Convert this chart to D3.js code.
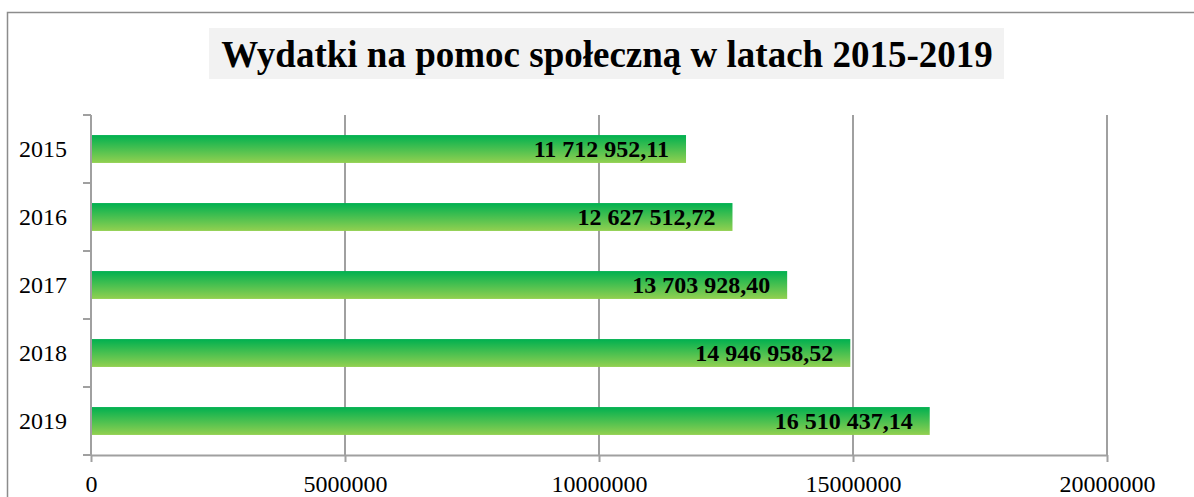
<!DOCTYPE html>
<html>
<head>
<meta charset="utf-8">
<script src="https://cdn.jsdelivr.net/npm/d3@7"></script>
<style>
  body { margin: 0; background: #fff; }
  svg text { font-family: 'Liberation Serif', 'Times New Roman', serif; }
</style>
</head>
<body>
<div class="container"></div>
<script>
const WIDTH = 1194,
      HEIGHT = 497;

// data
var years = ['2015', '2016', '2017', '2018', '2019'];
var values = [11712952.11, 12627512.72, 13703928.40, 14946958.52, 16510437.14];
var xTicks = [0, 5000000, 10000000, 15000000, 20000000];
var title = 'Wydatki na pomoc społeczną w latach 2015-2019';

var margin = {left: 91, right: 87, top: 115, bottom: 42};

var svg = d3.select('.container').append('svg')
    .attr('width', WIDTH).attr('height', HEIGHT);

var grad = svg.append('defs').append('linearGradient')
    .attr('id', 'barGrad').attr('x1', 0).attr('y1', 0).attr('x2', 0).attr('y2', 1);
grad.append('stop').attr('offset', '0%').attr('stop-color', '#00b050');
grad.append('stop').attr('offset', '100%').attr('stop-color', '#92d050');

// outer frame (runs off the right and bottom edge)
svg.append('rect')
    .attr('x', 7.5).attr('y', 12.5)
    .attr('width', WIDTH + 20).attr('height', HEIGHT + 20)
    .attr('fill', 'none').attr('stroke', '#8c8c8c').attr('stroke-width', 1.5);

// title with grey box
svg.append('rect')
    .attr('x', 209).attr('y', 28)
    .attr('width', 795).attr('height', 51)
    .attr('fill', '#f2f2f2');
svg.append('text')
    .attr('x', 607).attr('y', 67)
    .attr('text-anchor', 'middle')
    .attr('font-size', 37).attr('font-weight', 'bold')
    .attr('fill', '#000')
    .text(title);

var x = d3.scaleLinear()
    .domain([0, 20000000])
    .range([margin.left, WIDTH - margin.right]);

var y = d3.scaleBand()
    .domain(years)
    .range([margin.top, HEIGHT - margin.bottom])
    .paddingInner(0.59).paddingOuter(0.295);

var plotTop = margin.top, plotBottom = HEIGHT - margin.bottom;

// vertical gridlines
svg.append('g').selectAll('line')
    .data(xTicks.slice(1))
    .join('line')
    .attr('x1', d => x(d)).attr('x2', d => x(d))
    .attr('y1', plotTop).attr('y2', plotBottom)
    .attr('stroke', '#a0a0a0').attr('stroke-width', 2);

// x axis
var xAxis = svg.append('g')
    .attr('transform', 'translate(0,' + plotBottom + ')')
    .call(d3.axisBottom(x).tickValues(xTicks).tickFormat(d3.format('d'))
      .tickSizeOuter(0).tickSizeInner(7).tickPadding(13));
xAxis.attr('font-family', null);
xAxis.select('.domain').attr('stroke', '#a0a0a0').attr('stroke-width', 2);
xAxis.selectAll('.tick line').attr('stroke', '#a0a0a0').attr('stroke-width', 2);
xAxis.selectAll('.tick text')
    .attr('font-size', 24).attr('fill', '#000');

// y axis line with category boundary ticks
svg.append('line')
    .attr('x1', x(0)).attr('x2', x(0))
    .attr('y1', plotTop).attr('y2', plotBottom)
    .attr('stroke', '#a0a0a0').attr('stroke-width', 2);
svg.append('g').selectAll('line')
    .data(d3.range(years.length + 1))
    .join('line')
    .attr('x1', x(0) - 8).attr('x2', x(0))
    .attr('y1', i => plotTop + i * y.step())
    .attr('y2', i => plotTop + i * y.step())
    .attr('stroke', '#a0a0a0').attr('stroke-width', 2);

svg.append('g').selectAll('text')
    .data(years)
    .join('text')
    .attr('x', 67)
    .attr('y', d => y(d) + y.bandwidth() / 2)
    .attr('dy', '0.32em')
    .attr('text-anchor', 'end')
    .attr('font-size', 24)
    .attr('fill', '#000')
    .text(d => d);

// bars
svg.append('g').selectAll('rect')
    .data(values)
    .join('rect')
    .attr('x', x(0) + 1)
    .attr('y', (d, i) => y(years[i]))
    .attr('width', d => x(d) - x(0) - 1)
    .attr('height', y.bandwidth())
    .attr('fill', 'url(#barGrad)');

// value labels
var fmt = v => {
  var parts = v.toFixed(2).split('.');
  return parts[0].replace(/\B(?=(\d{3})+(?!\d))/g, ' ') + ',' + parts[1];
};
svg.append('g').selectAll('text')
    .data(values)
    .join('text')
    .attr('x', d => x(d) - 17)
    .attr('y', (d, i) => y(years[i]) + y.bandwidth() / 2)
    .attr('dy', '0.35em')
    .attr('text-anchor', 'end')
    .attr('font-size', 24)
    .attr('font-weight', 'bold')
    .attr('fill', '#000')
    .text(fmt);
</script>
</body>
</html>
